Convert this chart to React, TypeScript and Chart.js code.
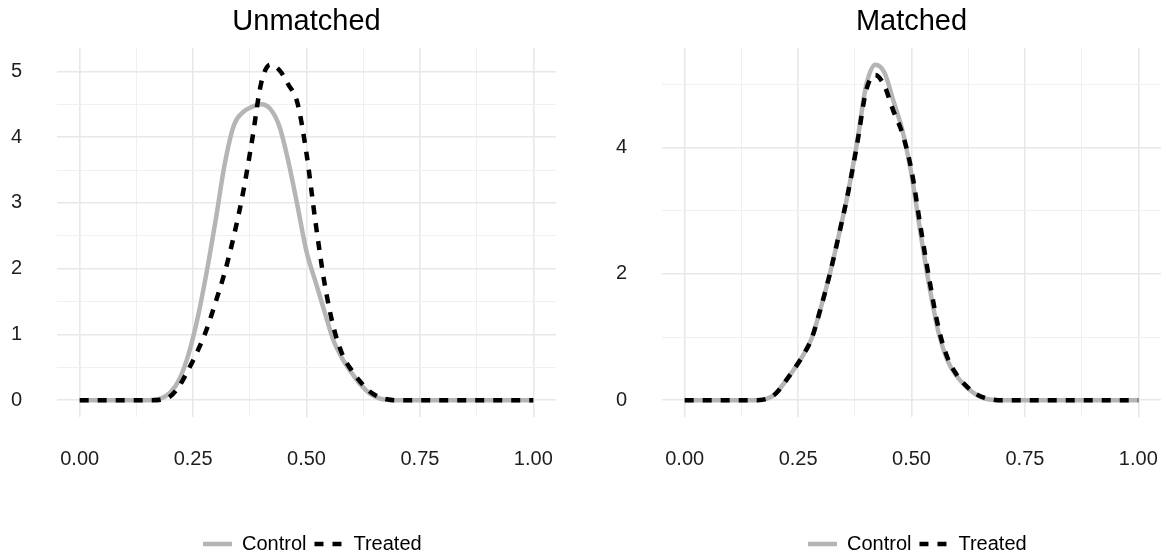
import React, { useEffect, useRef } from "react";
import { Chart, registerables } from "chart.js";

Chart.register(...registerables);

// ---- data ----
const xGrid = [
  0.0, 0.02, 0.04, 0.06, 0.08, 0.1, 0.12, 0.14, 0.16, 0.18,
  0.2, 0.22, 0.24, 0.26, 0.28, 0.3, 0.32, 0.34, 0.36, 0.38,
  0.4, 0.42, 0.44, 0.46, 0.48, 0.5, 0.52, 0.54, 0.56, 0.58,
  0.6, 0.62, 0.64, 0.66, 0.68, 0.7, 0.72, 0.74, 0.76, 0.78,
  0.8, 0.82, 0.84, 0.86, 0.88, 0.9, 0.92, 0.94, 0.96, 0.98, 1.0,
];

const unmatchedControl = [
  0, 0, 0, 0, 0, 0, 0, 0, 0.005, 0.03,
  0.12, 0.32, 0.7, 1.25, 1.95, 2.75, 3.6, 4.18, 4.38, 4.46,
  4.5, 4.43, 4.17, 3.63, 2.96, 2.26, 1.8, 1.34, 0.9, 0.62,
  0.41, 0.23, 0.1, 0.03, 0.005, 0, 0, 0, 0, 0,
  0, 0, 0, 0, 0, 0, 0, 0, 0, 0, 0,
];

const unmatchedTreated = [
  0, 0, 0, 0, 0, 0, 0, 0, 0, 0.01,
  0.06, 0.22, 0.47, 0.75, 1.08, 1.5, 1.95, 2.5, 3.15, 3.95,
  4.82, 5.1, 5.02, 4.8, 4.52, 3.75, 2.7, 1.77, 1.1, 0.68,
  0.45, 0.27, 0.13, 0.05, 0.01, 0, 0, 0, 0, 0,
  0, 0, 0, 0, 0, 0, 0, 0, 0, 0, 0,
];

const matchedControl = [
  0, 0, 0, 0, 0, 0, 0, 0, 0, 0.02,
  0.1, 0.28, 0.48, 0.7, 0.98, 1.46, 2.0, 2.62, 3.28, 4.08,
  4.98, 5.31, 5.19, 4.74, 4.27, 3.57, 2.64, 1.78, 1.06, 0.62,
  0.38, 0.22, 0.1, 0.03, 0.005, 0, 0, 0, 0, 0,
  0, 0, 0, 0, 0, 0, 0, 0, 0, 0, 0,
];

const matchedTreated = [
  0, 0, 0, 0, 0, 0, 0, 0, 0, 0.02,
  0.1, 0.28, 0.48, 0.7, 0.98, 1.46, 2.0, 2.62, 3.28, 4.05,
  4.9, 5.15, 4.98, 4.58, 4.22, 3.64, 2.74, 1.88, 1.13, 0.66,
  0.4, 0.23, 0.11, 0.04, 0.01, 0, 0, 0, 0, 0,
  0, 0, 0, 0, 0, 0, 0, 0, 0, 0, 0,
];

const seriesNames = ["Control", "Treated"];
const panelTitles = ["Unmatched", "Matched"];
const xMajorTicks = [0, 0.25, 0.5, 0.75, 1];
const xTickLabels = ["0.00", "0.25", "0.50", "0.75", "1.00"];
const xMinorTicks = [0.125, 0.375, 0.625, 0.875];
const unmatchedYMajor = [0, 1, 2, 3, 4, 5];
const unmatchedYMinor = [0.5, 1.5, 2.5, 3.5, 4.5];
const matchedYMajor = [0, 2, 4];
const matchedYMinor = [1, 3, 5];

// ---- style ----
const FONT = '"Liberation Sans", Arial, Helvetica, sans-serif';
const CONTROL_COLOR = "#b5b5b5";
const TREATED_COLOR = "#000000";
const LINE_W = 4.5;
const DASH = [9, 9];
const MAJOR_GRID = "#e8e8e8";
const MINOR_GRID = "#f0f0f0";
const TICK_COLOR = "#1e1e1e";

const legendPlugin = {
  id: "bottomLegend",
  afterDraw(chart: any) {
    const ctx = chart.ctx;
    const area = chart.chartArea;
    let x = area.left + 146;
    const y = 544;
    ctx.save();
    ctx.font = `20px ${FONT}`;
    ctx.textBaseline = "middle";
    ctx.textAlign = "left";
    chart.data.datasets.forEach((ds: any) => {
      ctx.beginPath();
      ctx.setLineDash(ds.borderDash || []);
      ctx.lineWidth = ds.borderWidth;
      ctx.strokeStyle = ds.borderColor;
      ctx.lineCap = "butt";
      ctx.moveTo(x, y);
      ctx.lineTo(x + 29, y);
      ctx.stroke();
      ctx.setLineDash([]);
      ctx.fillStyle = "#000";
      ctx.fillText(ds.label, x + 39, y);
      x += 39 + ctx.measureText(ds.label).width + 8;
    });
    ctx.restore();
  },
};

type PanelProps = {
  title: string;
  control: number[];
  treated: number[];
  yMajor: number[];
  yMinor: number[];
  left: number;
  axisWidth: number;
  padRight: number;
};

function Panel({ title, control, treated, yMajor, yMinor, left, axisWidth, padRight }: PanelProps) {
  const ref = useRef<HTMLCanvasElement>(null);

  useEffect(() => {
    const dataMax = Math.max(...control, ...treated);
    const yPad = dataMax * 0.05;
    const yTicksAll = [...yMajor, ...yMinor].sort((a, b) => a - b);
    const xTicksAll = [...xMajorTicks, ...xMinorTicks].sort((a, b) => a - b);
    const isMajorX = (v: number) => xMajorTicks.some((t) => Math.abs(t - v) < 1e-9);
    const isMajorY = (v: number) => yMajor.some((t) => Math.abs(t - v) < 1e-9);

    const chart = new Chart(ref.current as HTMLCanvasElement, {
      type: "line",
      data: {
        datasets: [
          {
            label: seriesNames[0],
            data: xGrid.map((x, i) => ({ x, y: control[i] })),
            borderColor: CONTROL_COLOR,
            borderWidth: LINE_W,
            pointRadius: 0,
            fill: false,
            cubicInterpolationMode: "monotone",
            borderJoinStyle: "round",
            order: 2,
          },
          {
            label: seriesNames[1],
            data: xGrid.map((x, i) => ({ x, y: treated[i] })),
            borderColor: TREATED_COLOR,
            borderWidth: LINE_W,
            borderDash: DASH,
            pointRadius: 0,
            fill: false,
            cubicInterpolationMode: "monotone",
            borderJoinStyle: "round",
            order: 1,
          },
        ],
      },
      options: {
        responsive: false,
        animation: false,
        devicePixelRatio: 1,
        events: [],
        layout: { padding: { left: 0, right: padRight, top: 0, bottom: 0 } },
        plugins: {
          legend: { display: false },
          tooltip: { enabled: false },
          title: {
            display: true,
            text: title,
            fullSize: false,
            color: "#000",
            font: { family: FONT, size: 29, weight: "normal", lineHeight: 1.2 },
            padding: { top: 5, bottom: 8.2 },
          },
        },
        scales: {
          x: {
            type: "linear",
            min: -0.05,
            max: 1.05,
            afterBuildTicks: (s: any) => {
              s.ticks = xTicksAll.map((v) => ({ value: v }));
            },
            afterFit: (s: any) => {
              s.height = 139;
              s.paddingLeft = 0;
              s.paddingRight = 0;
            },
            ticks: {
              autoSkip: false,
              maxRotation: 0,
              minRotation: 0,
              padding: 0,
              color: TICK_COLOR,
              font: { family: FONT, size: 20 },
              callback: (v: any) => {
                const idx = xMajorTicks.findIndex((t) => Math.abs(t - Number(v)) < 1e-9);
                return idx >= 0 ? xTickLabels[idx] : "";
              },
            },
            grid: {
              color: (c: any) => (c.tick && isMajorX(c.tick.value) ? MAJOR_GRID : MINOR_GRID),
              lineWidth: (c: any) => (c.tick && isMajorX(c.tick.value) ? 1.6 : 1),
              drawTicks: true,
              tickLength: 30,
              tickColor: "rgba(0,0,0,0)",
            },
            border: { display: false },
          },
          y: {
            type: "linear",
            min: -yPad,
            max: dataMax + yPad,
            afterBuildTicks: (s: any) => {
              s.ticks = yTicksAll.map((v) => ({ value: v }));
            },
            afterFit: (s: any) => {
              s.width = axisWidth;
              s.paddingTop = 0;
              s.paddingBottom = 0;
            },
            ticks: {
              autoSkip: false,
              padding: 0,
              color: TICK_COLOR,
              font: { family: FONT, size: 20 },
              callback: (v: any) => (isMajorY(Number(v)) ? String(Number(v)) : ""),
            },
            grid: {
              color: (c: any) => (c.tick && isMajorY(c.tick.value) ? MAJOR_GRID : MINOR_GRID),
              lineWidth: (c: any) => (c.tick && isMajorY(c.tick.value) ? 1.6 : 1),
              drawTicks: true,
              tickLength: 35,
              tickColor: "rgba(0,0,0,0)",
            },
            border: { display: false },
          },
        },
      } as any,
      plugins: [legendPlugin],
    } as any);
    return () => chart.destroy();
  }, []);

  return (
    <div style={{ position: "absolute", left, top: 0, width: 583, height: 556 }}>
      <canvas ref={ref} width={583} height={556} style={{ width: 583, height: 556, display: "block" }} />
    </div>
  );
}

export default function App() {
  return (
    <div style={{ position: "absolute", left: 0, top: 0, width: 1166, height: 556, background: "#fff", overflow: "hidden" }}>
      <Panel
        title={panelTitles[0]}
        control={unmatchedControl}
        treated={unmatchedTreated}
        yMajor={unmatchedYMajor}
        yMinor={unmatchedYMinor}
        left={0}
        axisWidth={57}
        padRight={27}
      />
      <Panel
        title={panelTitles[1]}
        control={matchedControl}
        treated={matchedTreated}
        yMajor={matchedYMajor}
        yMinor={matchedYMinor}
        left={583}
        axisWidth={79}
        padRight={5}
      />
    </div>
  );
}
